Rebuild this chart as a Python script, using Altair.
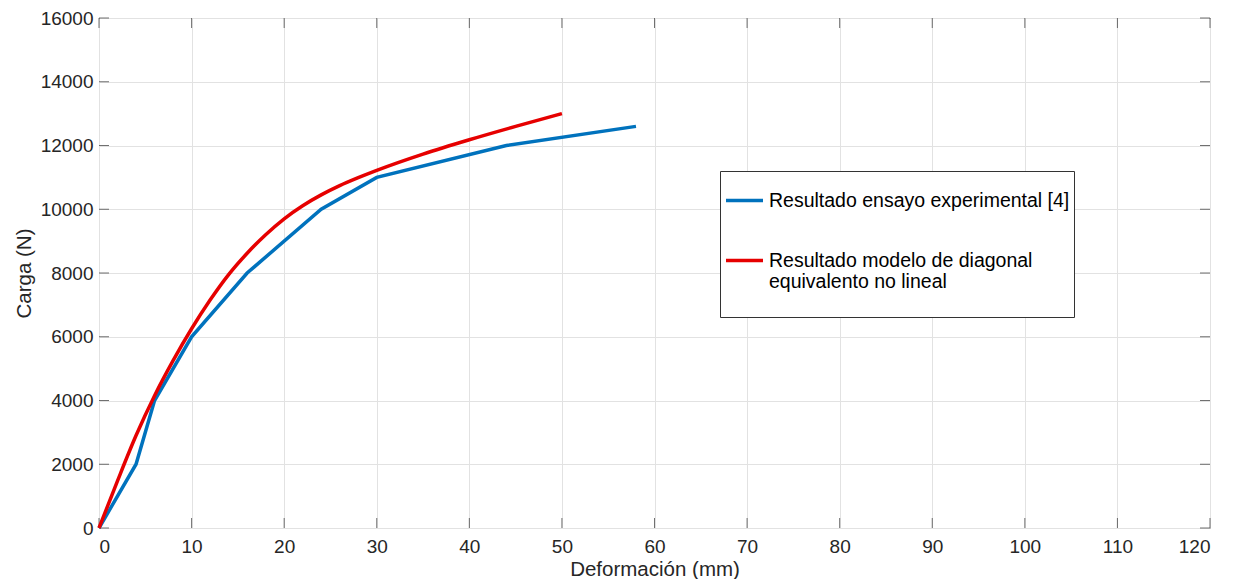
import altair as alt
import pandas as pd

# ---- data ----
exp_x = [0, 4, 6, 10, 16, 24, 30, 44, 58]
exp_y = [0, 2000, 4000, 6000, 8000, 10000, 11000, 12000, 12600]

mod_x = [0, 2, 4, 6, 8, 10, 12, 14, 16, 18, 20, 22, 24, 26, 28, 30, 35, 40, 45, 50]
mod_y = [0, 1480, 2900, 4150, 5250, 6250, 7150, 7950, 8620, 9200, 9700, 10110,
         10450, 10740, 10990, 11220, 11730, 12180, 12600, 13000]

lab_exp = "Resultado ensayo experimental [4]"
lab_mod = "Resultado modelo de diagonal equivalento no lineal"
lab_mod_lines = ["Resultado modelo de diagonal", "equivalento no lineal"]

x_ticks = [0, 10, 20, 30, 40, 50, 60, 70, 80, 90, 100, 110, 120]
y_ticks = [0, 2000, 4000, 6000, 8000, 10000, 12000, 14000, 16000]

colors = ["#0072BD", "#E60000"]

W, H = 1111, 510
FONT = "Liberation Sans"
AX = "#333333"

df_exp = pd.DataFrame({"x": exp_x, "y": exp_y, "serie": lab_exp})
df_mod = pd.DataFrame({"x": mod_x, "y": mod_y, "serie": lab_mod})
df_xt = pd.DataFrame({"x": x_ticks})
df_yt = pd.DataFrame({"y": y_ticks})

xscale = alt.Scale(domain=[0, 120], nice=False, zero=False)
yscale = alt.Scale(domain=[0, 16000], nice=False, zero=False)

xaxis = alt.Axis(values=x_ticks, title="Deformación (mm)", ticks=False, tickSize=0,
                 labelPadding=9, titlePadding=3, grid=True)
yaxis = alt.Axis(values=y_ticks, title="Carga (N)", ticks=False, tickSize=0, format="d",
                 labelPadding=6, titlePadding=6, grid=True)

label_expr = "datum.label == '%s' ? ['%s', '%s', ' '] : datum.label" % (
    lab_mod, lab_mod_lines[0], lab_mod_lines[1])

color = alt.Color(
    "serie:N",
    scale=alt.Scale(domain=[lab_exp, lab_mod], range=colors),
    legend=alt.Legend(
        title=" ",
        titleFontSize=3,
        titlePadding=2,
        orient="none",
        legendX=621,
        legendY=153,
        labelExpr=label_expr,
        labelLimit=500,
        labelFontSize=19.5,
        labelFont=FONT,
        labelColor="#000000",
        labelOffset=4,
        symbolType="stroke",
        symbolSize=1369,
        symbolStrokeWidth=3.5,
        rowPadding=30,
        padding=4,
        strokeColor=AX,
        fillColor="#ffffff",
    ),
)

line_exp = alt.Chart(df_exp).mark_line(strokeWidth=3.5).encode(
    x=alt.X("x:Q", scale=xscale, axis=xaxis),
    y=alt.Y("y:Q", scale=yscale, axis=yaxis),
    color=color,
)
line_mod = alt.Chart(df_mod).mark_line(strokeWidth=3.5, interpolate="monotone").encode(
    x=alt.X("x:Q", scale=xscale, axis=xaxis),
    y=alt.Y("y:Q", scale=yscale, axis=yaxis),
    color=color,
)

tick_style = dict(color=AX, thickness=1, size=10)
xt_bottom = alt.Chart(df_xt).mark_tick(orient="vertical", yOffset=-5, **tick_style).encode(
    x=alt.X("x:Q", scale=xscale), y=alt.value(H))
xt_top = alt.Chart(df_xt).mark_tick(orient="vertical", yOffset=5, **tick_style).encode(
    x=alt.X("x:Q", scale=xscale), y=alt.value(0))
yt_left = alt.Chart(df_yt).mark_tick(orient="horizontal", xOffset=5, **tick_style).encode(
    y=alt.Y("y:Q", scale=yscale), x=alt.value(0))
yt_right = alt.Chart(df_yt).mark_tick(orient="horizontal", xOffset=-5, **tick_style).encode(
    y=alt.Y("y:Q", scale=yscale), x=alt.value(W))

chart = (
    alt.layer(xt_bottom, xt_top, yt_left, yt_right, line_exp, line_mod)
    .properties(
        width=W,
        height=H,
        autosize=alt.AutoSizeParams(type="none"),
        padding={"left": 91, "top": 10, "right": 25, "bottom": 51},
    )
    .configure_view(stroke=AX, strokeWidth=1)
    .configure_axis(
        labelFont=FONT,
        titleFont=FONT,
        labelFontSize=19,
        titleFontSize=20.5,
        titleFontWeight="normal",
        labelColor="#262626",
        titleColor="#262626",
        domain=False,
        gridColor="#e2e2e2",
        gridWidth=1,
    )
)

chart.save("out.html", embed_options={"renderer": "svg", "actions": False})
